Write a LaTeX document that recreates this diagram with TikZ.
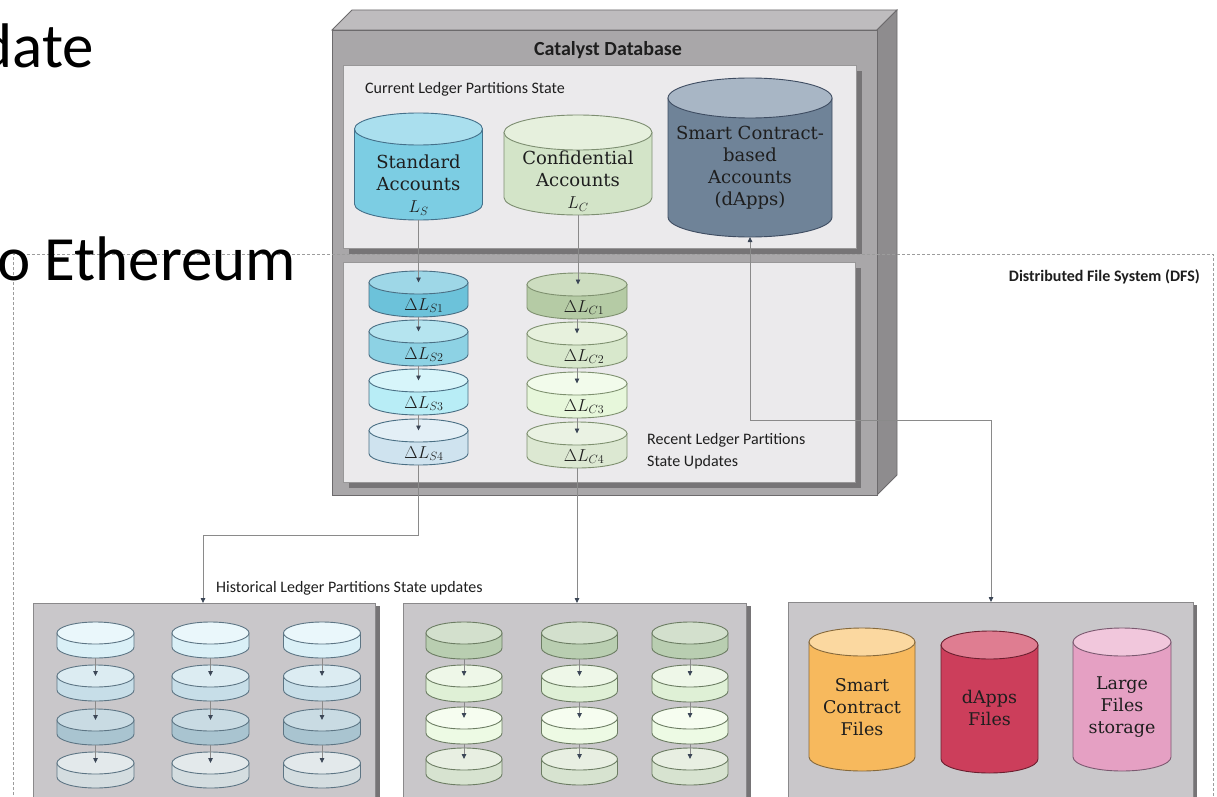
\documentclass[tikz,border=0pt]{standalone}
\usepackage{fontspec}
\setmainfont{Carlito}
\newfontfamily\slabfont{DejaVu Serif}
\usetikzlibrary{arrows.meta}

\definecolor{boxfront}{HTML}{A9A7A9}
\definecolor{boxtop}{HTML}{BEBCBE}
\definecolor{boxside}{HTML}{8E8C8E}
\definecolor{boxline}{HTML}{6C6A6C}
\definecolor{panelfill}{HTML}{EBEAEC}
\definecolor{panelshade}{HTML}{767476}
\definecolor{histfill}{HTML}{C9C7CA}
\definecolor{histline}{HTML}{8A898B}
\definecolor{dfsline}{HTML}{9C9C9C}
\definecolor{connline}{HTML}{8A8A8A}
\definecolor{connhead}{HTML}{3B4656}
\definecolor{txt}{HTML}{1E1E1E}
\definecolor{lsbody}{HTML}{7CCDE3}\definecolor{lstop}{HTML}{AADFEE}\definecolor{lsline}{HTML}{44708A}
\definecolor{lcbody}{HTML}{D3E4C8}\definecolor{lctop}{HTML}{E6F0DD}\definecolor{lcline}{HTML}{7D8E71}
\definecolor{scbody}{HTML}{6F8398}\definecolor{sctop}{HTML}{A8B6C5}\definecolor{scline}{HTML}{3E4C61}
\definecolor{dsAb}{HTML}{6CC2DA}\definecolor{dsAt}{HTML}{9ED7E7}
\definecolor{dsBb}{HTML}{8DD2E4}\definecolor{dsBt}{HTML}{B5E4EF}
\definecolor{dsCb}{HTML}{B8EDF6}\definecolor{dsCt}{HTML}{D7F5FA}
\definecolor{dsDb}{HTML}{CFE3EF}\definecolor{dsDt}{HTML}{E3EFF6}
\definecolor{dsline}{HTML}{4A6F84}
\definecolor{dcAb}{HTML}{B5CBA5}\definecolor{dcAt}{HTML}{CDDDC0}
\definecolor{dcBb}{HTML}{D8E8CC}\definecolor{dcBt}{HTML}{E7F1DD}
\definecolor{dcCb}{HTML}{E7F7DB}\definecolor{dcCt}{HTML}{F2FBEB}
\definecolor{dcDb}{HTML}{DCE8D2}\definecolor{dcDt}{HTML}{EAF2E3}
\definecolor{dcline}{HTML}{7E906F}
\definecolor{hsAb}{HTML}{DAF0F7}\definecolor{hsAt}{HTML}{EAF7FB}
\definecolor{hsBb}{HTML}{C7DEE8}\definecolor{hsBt}{HTML}{DCECF2}
\definecolor{hsCb}{HTML}{A9C4D0}\definecolor{hsCt}{HTML}{C9DBE3}
\definecolor{hsDb}{HTML}{D4DDE0}\definecolor{hsDt}{HTML}{E3E9EB}
\definecolor{hsline}{HTML}{5D7584}
\definecolor{hcAb}{HTML}{B9CEB1}\definecolor{hcAt}{HTML}{D3E0CD}
\definecolor{hcBb}{HTML}{DFF0D6}\definecolor{hcBt}{HTML}{EEF7E8}
\definecolor{hcCb}{HTML}{EDFAE4}\definecolor{hcCt}{HTML}{F6FDF0}
\definecolor{hcDb}{HTML}{D7E3D0}\definecolor{hcDt}{HTML}{E8EFE2}
\definecolor{hcline}{HTML}{6C7D63}
\definecolor{orb}{HTML}{F7B95D}\definecolor{ort}{HTML}{FBD8A0}\definecolor{orl}{HTML}{86693B}
\definecolor{rdb}{HTML}{CC3E5B}\definecolor{rdt}{HTML}{DF7D91}\definecolor{rdl}{HTML}{6B1F2F}
\definecolor{pkb}{HTML}{E5A0C3}\definecolor{pkt}{HTML}{F1C7DC}\definecolor{pkl}{HTML}{7B5970}

% #1 name, #2 cx, #3 top y, #4 width, #5 height, #6 ry, #7 body, #8 top, #9 line
\newcommand{\dbcyl}[9]{%
  \pgfmathsetmacro\cylrx{#4/2}%
  \pgfmathsetmacro\cylyt{#3+#6}%
  \pgfmathsetmacro\cylyb{#3+#5-#6}%
  \filldraw[fill=#7,draw=#9,cylline] ({#2-\cylrx},\cylyt) -- ({#2-\cylrx},\cylyb)
     arc[start angle=180,end angle=360,x radius=\cylrx pt,y radius=#6pt] -- ({#2+\cylrx},\cylyt) -- cycle;%
  \filldraw[fill=#8,draw=#9,cylline] (#2,\cylyt) ellipse[x radius=\cylrx pt,y radius=#6pt];%
  \coordinate (#1-top) at (#2,\cylyt);%
  \coordinate (#1-bot) at (#2,{#3+#5});%
}

\tikzset{
  cylline/.style={line width=0.9pt},
  conn/.style={draw=connline, line width=0.8pt, -{Triangle[length=5pt,width=4.5pt,color=connhead]}},
  connboth/.style={draw=connline, line width=0.8pt, {Triangle[length=5pt,width=4.5pt,color=connhead]}-{Triangle[length=5pt,width=4.5pt,color=connhead]}},
  lbl/.style={font=\fontsize{16}{22}\selectfont, text=txt, inner sep=0pt},
  boldlbl/.style={font=\bfseries\fontsize{16}{19}\selectfont, text=txt, inner sep=0pt},
  bigtxt/.style={font=\fontsize{63}{70}\selectfont, text=black, inner sep=0pt},
  cyltext/.style={font=\slabfont\fontsize{17.5}{21.7}\selectfont, align=center, text=txt, inner sep=0pt},
  topcyltext/.style={font=\slabfont\fontsize{18}{22}\selectfont, align=center, text=txt, inner sep=0pt},
  disctext/.style={font=\fontsize{17.5}{19}\selectfont, text=txt, inner sep=0pt},
  innerpanel/.style={draw=boxline!70, fill=panelfill, anchor=north west, inner sep=0pt, line width=0.6pt},
  histpanel/.style={draw=histline, fill=histfill, anchor=north west, inner sep=0pt, line width=0.8pt},
}

\begin{document}
\begin{tikzpicture}[x=1pt,y=-1pt]
\useasboundingbox (0,0) rectangle (1217,797);
\clip (0,0) rectangle (1217,797);
\fill[white] (0,0) rectangle (1217,797);

% ---------- Catalyst database box ----------
\filldraw[fill=boxtop,draw=boxline,line width=0.8pt] (332,30) -- (352,10) -- (897,10) -- (877,30) -- cycle;
\filldraw[fill=boxside,draw=boxline,line width=0.8pt] (877,30) -- (897,10) -- (897,475) -- (877,495) -- cycle;
\node[draw=boxline, fill=boxfront, anchor=north west, minimum width=545pt, minimum height=465pt, inner sep=0pt, line width=1pt] (catbox) at (332,30) {};
\node[font=\bfseries\fontsize{20}{24}\selectfont, text=txt, inner sep=0pt] (cattitle) at (608,50) {Catalyst Database};

\fill[panelshade] (349,71) rectangle (862,254);
\node[innerpanel, minimum width=513pt, minimum height=183pt] (curpanel) at (343,65) {};
\fill[panelshade] (349,268) rectangle (861,488);
\node[innerpanel, minimum width=512pt, minimum height=220pt] (recpanel) at (343,262) {};

\node[lbl, anchor=west] (curlbl) at (365,89) {Current Ledger Partitions State};

% current state cylinders
\dbcyl{ls}{418.5}{113}{128}{107}{16}{lsbody}{lstop}{lsline}
\dbcyl{lc}{578}{115}{148}{100}{17.5}{lcbody}{lctop}{lcline}
\dbcyl{sc}{750}{78}{164}{159}{20}{scbody}{sctop}{scline}
\node[topcyltext] (lstxt) at (418.5,185) {Standard\\Accounts\\$L_S$};
\node[topcyltext] (lctxt) at (578,181) {Confidential\\Accounts\\$L_C$};
\node[topcyltext] (sctxt) at (750,167.5) {Smart Contract-\\based\\Accounts\\(dApps)};

% recent state update discs
\dbcyl{s1}{418.5}{271}{99}{46}{11.5}{dsAb}{dsAt}{dsline}
\dbcyl{s2}{418.5}{320}{99}{46}{11.5}{dsBb}{dsBt}{dsline}
\dbcyl{s3}{418.5}{369}{99}{46}{11.5}{dsCb}{dsCt}{dsline}
\dbcyl{s4}{418.5}{419}{99}{46}{11.5}{dsDb}{dsDt}{dsline}
\dbcyl{c1}{577}{273}{100}{46}{11.5}{dcAb}{dcAt}{dcline}
\dbcyl{c2}{577}{322}{100}{46}{11.5}{dcBb}{dcBt}{dcline}
\dbcyl{c3}{577}{372}{100}{46}{11.5}{dcCb}{dcCt}{dcline}
\dbcyl{c4}{577}{422}{100}{46}{11.5}{dcDb}{dcDt}{dcline}
\node[disctext] (s1t) at (424,305.5) {$\Delta L_{S1}$};
\node[disctext] (s2t) at (424,354.5) {$\Delta L_{S2}$};
\node[disctext] (s3t) at (424,403.5) {$\Delta L_{S3}$};
\node[disctext] (s4t) at (424,453.5) {$\Delta L_{S4}$};
\node[disctext] (c1t) at (584,307.5) {$\Delta L_{C1}$};
\node[disctext] (c2t) at (584,356.5) {$\Delta L_{C2}$};
\node[disctext] (c3t) at (584,406.5) {$\Delta L_{C3}$};
\node[disctext] (c4t) at (584,456.5) {$\Delta L_{C4}$};

\node[lbl, anchor=west, align=left] (reclbl) at (647,451) {Recent Ledger Partitions\\State Updates};

% ---------- historical panels ----------
\fill[panelshade] (37,606) rectangle (380,810);
\node[histpanel, minimum width=342pt, minimum height=210pt] (histS) at (33,603) {};
\fill[panelshade] (407,606) rectangle (751,810);
\node[histpanel, minimum width=343pt, minimum height=210pt] (histC) at (403,603) {};
\fill[panelshade] (792,605) rectangle (1197,810);
\node[histpanel, minimum width=405pt, minimum height=210pt] (dfsbox) at (788,602) {};

\foreach \cx/\col in {95.5/1,210.5/2,322/3} {
  \dbcyl{hs\col a}{\cx}{622}{77}{36}{11}{hsAb}{hsAt}{hsline}
  \dbcyl{hs\col b}{\cx}{665}{77}{36}{11}{hsBb}{hsBt}{hsline}
  \dbcyl{hs\col c}{\cx}{709}{77}{36}{11}{hsCb}{hsCt}{hsline}
  \dbcyl{hs\col d}{\cx}{752}{77}{36}{11}{hsDb}{hsDt}{hsline}
  \draw[conn] (hs\col a-bot) -- (hs\col b-top);
  \draw[conn] (hs\col b-bot) -- (hs\col c-top);
  \draw[conn] (hs\col c-bot) -- (hs\col d-top);
}
\foreach \cx/\col in {464/1,579.5/2,690/3} {
  \dbcyl{hc\col a}{\cx}{622}{76}{37}{11}{hcAb}{hcAt}{hcline}
  \dbcyl{hc\col b}{\cx}{665}{76}{37}{11}{hcBb}{hcBt}{hcline}
  \dbcyl{hc\col c}{\cx}{707}{76}{37}{11}{hcCb}{hcCt}{hcline}
  \dbcyl{hc\col d}{\cx}{748}{76}{37}{11}{hcDb}{hcDt}{hcline}
  \draw[conn] (hc\col a-bot) -- (hc\col b-top);
  \draw[conn] (hc\col b-bot) -- (hc\col c-top);
  \draw[conn] (hc\col c-bot) -- (hc\col d-top);
}

% DFS file cylinders
\dbcyl{scf}{862}{628}{106}{143}{14}{orb}{ort}{orl}
\dbcyl{daf}{989.5}{631}{97}{142}{14}{rdb}{rdt}{rdl}
\dbcyl{lfs}{1122}{628}{98}{143}{14}{pkb}{pkt}{pkl}
\node[cyltext] (scftxt) at (862,707) {Smart\\Contract\\Files};
\node[cyltext] (daftxt) at (989.5,708) {dApps\\Files};
\node[cyltext] (lfstxt) at (1122,707) {Large\\Files\\storage};

\node[lbl, anchor=west] (histlbl) at (216,588) {Historical Ledger Partitions State updates};

% ---------- DFS dashed frame ----------
\draw[dfsline, line width=0.8pt, dash pattern=on 3pt off 2pt] (13,820) -- (13,254) -- (1213,254) -- (1213,820);
\node[boldlbl, anchor=east] (dfslbl) at (1200,277) {Distributed File System (DFS)};

% ---------- connectors ----------
\draw[conn] (ls-bot) -- (s1-top);
\draw[conn] (lc-bot) -- (lc-bot |- c1-top);
\draw[conn] (s1-bot) -- (s2-top);
\draw[conn] (s2-bot) -- (s3-top);
\draw[conn] (s3-bot) -- (s4-top);
\draw[conn] (c1-bot) -- (c2-top);
\draw[conn] (c2-bot) -- (c3-top);
\draw[conn] (c3-bot) -- (c4-top);

\coordinate (jS) at (203,535);
\draw[conn] (s4-bot) |- (jS) -- (jS |- histS.north);
\draw[conn] (c4-bot) -- (c4-bot |- histC.north);
\coordinate (jD) at (991,420);
\draw[connboth] (sc-bot) |- (jD) -- (jD |- dfsbox.north);

% ---------- slide text fragments (cut by the slide edge, as in the reference) ----------
\node[bigtxt, anchor=base east] (updtxt) at (94,68) {date};
\node[bigtxt, anchor=base west] (ethtxt) at (-3,280) {o Ethereum};
\end{tikzpicture}
\end{document}
